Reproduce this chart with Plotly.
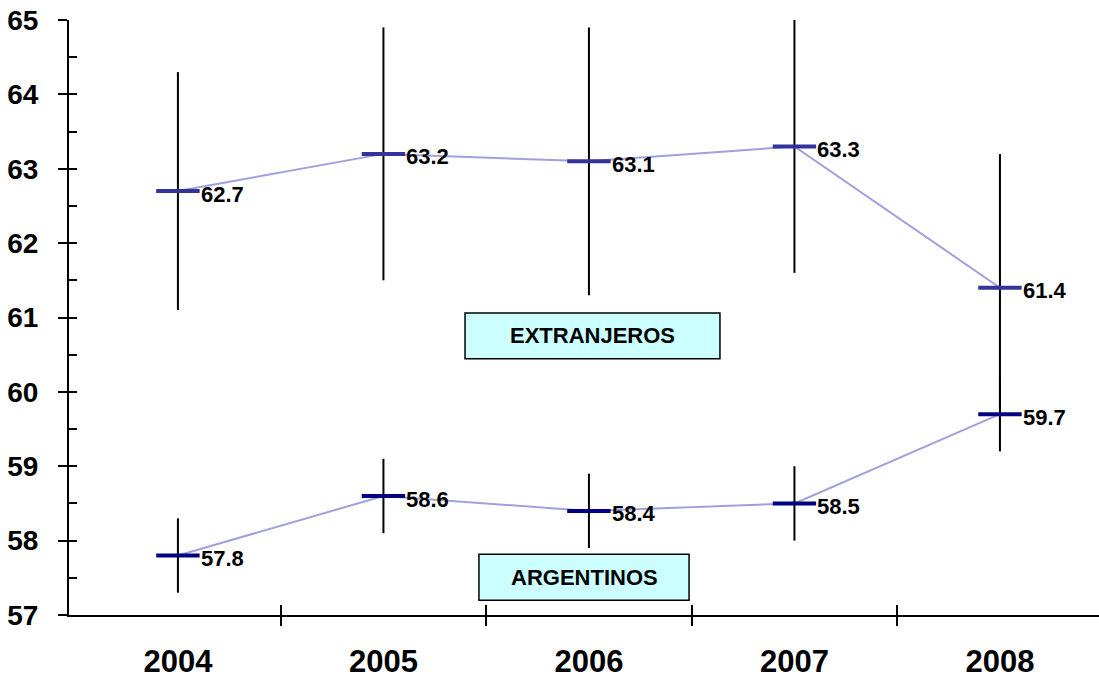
import plotly.graph_objects as go

years = ["2004", "2005", "2006", "2007", "2008"]
extranjeros = [62.7, 63.2, 63.1, 63.3, 61.4]
extranjeros_err = [1.6, 1.7, 1.8, 1.7, 1.8]
argentinos = [57.8, 58.6, 58.4, 58.5, 59.7]
argentinos_err = [0.5, 0.5, 0.5, 0.5, 0.5]
y_ticks = [57, 58, 59, 60, 61, 62, 63, 64, 65]

xpos = list(range(len(years)))
boundaries = [i + 0.5 for i in xpos[:-1]]
XR = [-0.53, 4.482]
YR = [57, 65]
FONT = "Liberation Sans, Arial, sans-serif"

fig = go.Figure()

def series(vals, errs, color):
    fig.add_trace(go.Scatter(
        x=xpos, y=vals, mode="lines+markers",
        line=dict(color="#a0a0dc", width=2),
        marker=dict(symbol="line-ew", size=31, color=color,
                    line=dict(color=color, width=4)),
        error_y=dict(type="data", array=errs, visible=True,
                     color="black", thickness=2, width=0),
        hoverinfo="skip", showlegend=False, cliponaxis=False,
    ))
    for xi, v in zip(xpos, vals):
        fig.add_annotation(x=xi, y=v, text=f"<b>{v:.1f}</b>", showarrow=False,
                           xanchor="left", yanchor="middle", xshift=21, yshift=-3,
                           font=dict(family=FONT, size=22, color="black"))

series(extranjeros, extranjeros_err, "#33339a")
series(argentinos, argentinos_err, "#000080")

# invisible traces that activate the overlay tick axes
for xa, ya in [("x2", "y"), ("x3", "y"), ("x", "y2")]:
    fig.add_trace(go.Scatter(x=xpos, y=argentinos, xaxis=xa, yaxis=ya, mode="markers",
                             marker=dict(opacity=0), hoverinfo="skip", showlegend=False))

# Text boxes
for (x0, x1, y0, y1, label) in [(0.3845, 0.632, 0.4305, 0.5075, "EXTRANJEROS"),
                                (0.398, 0.602, 0.025, 0.102, "ARGENTINOS")]:
    fig.add_shape(type="rect", xref="paper", yref="paper", x0=x0, x1=x1, y0=y0, y1=y1,
                  fillcolor="#ccffff", line=dict(color="black", width=1.5), layer="above")
    fig.add_annotation(xref="paper", yref="paper", x=(x0 + x1) / 2, y=(y0 + y1) / 2,
                       xanchor="center", yanchor="middle",
                       text=f"<b>{label}</b>", showarrow=False,
                       font=dict(family=FONT, size=22, color="black"))

fig.update_layout(
    width=1099, height=679,
    margin=dict(l=69, r=0, t=20, b=62),
    paper_bgcolor="white", plot_bgcolor="white",
    font=dict(family=FONT, color="black"),
    xaxis=dict(range=XR, tickvals=xpos, ticktext=[f"<b>{y}</b>" for y in years],
               ticks="", showgrid=False, zeroline=False,
               showline=True, linecolor="black", linewidth=2,
               tickfont=dict(family=FONT, size=31), ticklabelstandoff=18),
    xaxis2=dict(range=XR, overlaying="x", side="bottom", tickvals=boundaries,
                ticks="outside", ticklen=10, tickwidth=2, tickcolor="black",
                showticklabels=False, showgrid=False, zeroline=False, showline=False),
    xaxis3=dict(range=XR, overlaying="x", side="bottom", tickvals=boundaries,
                ticks="inside", ticklen=10, tickwidth=2, tickcolor="black",
                showticklabels=False, showgrid=False, zeroline=False, showline=False),
    yaxis=dict(range=YR, tickvals=y_ticks, ticktext=[f"<b>{v}</b>" for v in y_ticks],
               ticks="outside", ticklen=9, tickwidth=2, tickcolor="black",
               showgrid=False, zeroline=False, showline=True, linecolor="black", linewidth=2,
               tickfont=dict(family=FONT, size=28), ticklabelstandoff=14),
    yaxis2=dict(range=YR, overlaying="y", side="left", dtick=0.5, tick0=57,
                ticks="inside", ticklen=8, tickwidth=2, tickcolor="black",
                showticklabels=False, showgrid=False, zeroline=False, showline=False),
)

fig.write_html("out.html", config={"displayModeBar": False},
               post_script="document.body.style.margin='0';document.body.style.overflow='hidden';")
